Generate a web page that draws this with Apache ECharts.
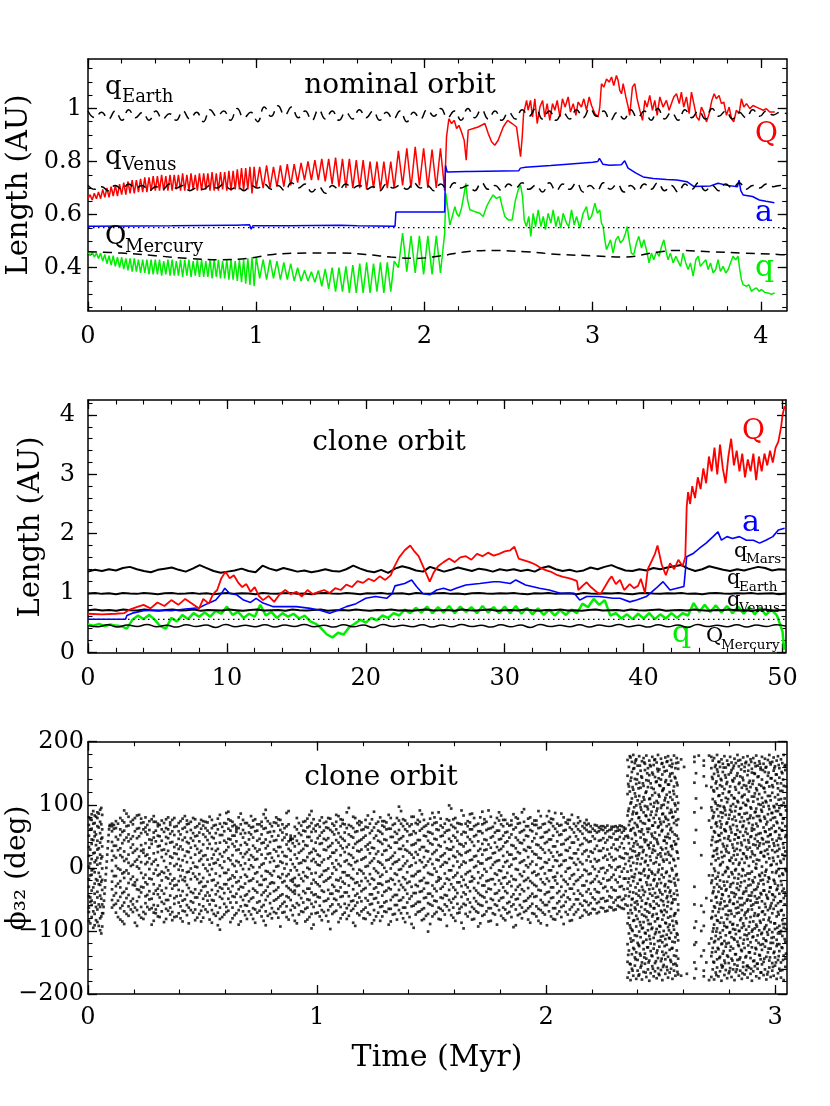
<!DOCTYPE html>
<html><head><meta charset="utf-8">
<script src="https://cdn.jsdelivr.net/npm/echarts@6/dist/echarts.min.js"></script>
<style>html,body{margin:0;padding:0;background:#fff}#c{width:830px;height:1106px}</style>
</head><body><div id="c"></div>
<script>
// ---------------- PANEL 1 : nominal orbit (time in Myr, length in AU) ----------------
const P1_X_TICKS = [0,1,2,3,4];
const P1_Y_TICKS = [0.4,0.6,0.8,1.0];
const QNOM_A = [0.66,0.675,0.655,0.68,0.66,0.685,0.66,0.695,0.665,0.70,
0.665,0.705,0.67,0.71,0.67,0.715,0.675,0.72,0.675,0.725,
0.68,0.73,0.68,0.73,0.685,0.735,0.685,0.74,0.685,0.74,
0.69,0.745,0.69,0.745,0.69,0.75,0.69,0.745,0.69,0.75,
0.69,0.75,0.695,0.75,0.69,0.755,0.69,0.75,0.69,0.755,
0.695,0.75,0.69,0.755,0.69,0.755,0.695,0.755,0.69,0.76,
0.69,0.755,0.69,0.76,0.695,0.76,0.69,0.765,0.69,0.765,
0.695,0.77,0.695,0.775,0.69,0.775,0.695,0.78,0.68,0.78,0.70];
const QNOM_B = [.78,.70,.785,.70,.78,.705,.785,.705,.79,.71,.79,.72,.795,.73,.80,.73,.805,.73,.81,.725,
.81,.715,.815,.705,.81,.70,.81,.70,.805,.70,.805,.695,.80,.70,.80,.695,.80,.70,.80,.70];
const QNOM_C = [.84,.71,.85,.70,.855,.71,.85,.70,.845,.70,.85,.69];
const QNOM_POST = [[2.131,0.893],[2.145,0.961],[2.161,0.943],[2.177,0.955],[2.191,0.924],[2.205,0.936],[2.220,0.911],[2.236,0.88],[2.248,0.805],[2.260,0.918],[2.290,0.924],[2.319,0.93],[2.359,0.943],[2.379,0.905],[2.399,0.874],[2.418,0.861],[2.438,0.88],[2.468,0.93],[2.494,0.955],[2.521,0.943],[2.547,0.93],[2.563,0.855],[2.571,0.818],[2.581,0.893],[2.589,0.98],[2.607,1.03],[2.616,0.993],[2.630,1.03],[2.642,0.968],[2.656,1.036],[2.670,0.943],[2.686,1.005],[2.702,1.03],[2.715,0.968],[2.729,1.018],[2.745,0.955],[2.761,1.018],[2.775,0.993],[2.789,1.03],[2.805,0.968],[2.820,1.036],[2.836,1.005],[2.854,1.043],[2.868,0.986],[2.884,1.018],[2.900,0.974],[2.913,1.024],[2.933,1.005],[2.947,1.036],[2.963,0.993],[2.979,1.043],[2.993,1.011],[3.013,0.98],[3.032,0.968],[3.042,1.005],[3.052,1.093],[3.066,1.08],[3.082,1.111],[3.098,1.099],[3.112,1.118],[3.125,1.086],[3.141,1.124],[3.151,1.105],[3.161,1.068],[3.171,1.055],[3.181,1.093],[3.197,1.043],[3.211,1.005],[3.220,0.974],[3.236,1.08],[3.250,1.093],[3.264,1.036],[3.280,0.993],[3.296,0.955],[3.310,1.03],[3.323,1.005],[3.339,1.049],[3.355,0.993],[3.369,1.03],[3.383,0.974],[3.399,1.043],[3.418,1.005],[3.438,1.03],[3.454,0.993],[3.468,1.018],[3.482,1.043],[3.498,1.055],[3.514,1.018],[3.527,1.061],[3.541,1.005],[3.557,1.043],[3.573,0.98],[3.587,1.061],[3.601,1.018],[3.617,0.968],[3.632,0.955],[3.646,1.005],[3.660,0.986],[3.676,0.949],[3.692,0.98],[3.708,1.03],[3.722,1.055],[3.735,1.036],[3.751,1.049],[3.765,1.018],[3.779,1.024],[3.795,0.974],[3.811,1.005],[3.825,0.961],[3.838,0.949],[3.854,0.993],[3.870,0.98],[3.884,1.036],[3.898,1.005],[3.914,1.018],[3.934,0.999],[3.953,1.011],[3.973,1.005],[3.993,0.999],[4.013,0.993],[4.032,0.999],[4.052,0.986],[4.082,0.986]];
const qNOM_A = [0.46,0.445,0.46,0.44,0.455,0.435,0.455,0.425,0.45,0.415,
0.445,0.41,0.445,0.405,0.44,0.40,0.44,0.395,0.435,0.39,
0.435,0.385,0.435,0.385,0.43,0.38,0.43,0.38,0.43,0.375,
0.43,0.375,0.43,0.375,0.43,0.37,0.425,0.375,0.43,0.37,
0.43,0.37,0.425,0.37,0.43,0.365,0.43,0.37,0.43,0.365,
0.425,0.37,0.43,0.365,0.43,0.365,0.425,0.365,0.43,0.36,
0.43,0.365,0.43,0.36,0.425,0.36,0.43,0.355,0.43,0.355,
0.425,0.35,0.43,0.345,0.43,0.34,0.435,0.335,0.44,0.33,0.44];
const qNOM_B = [.36,.43,.355,.43,.36,.425,.355,.42,.355,.415,.35,.40,.35,.39,.35,.385,.345,.39,.33,.395,
.32,.40,.31,.40,.31,.405,.305,.41,.305,.415,.305,.42,.305,.415,.31,.42,.305,.42,.31,.425];
const qNOM_C = [.40,.53,.385,.52,.38,.52,.375,.52,.375,.52,.38,.53];
const qNOM_POST = [[2.127,0.68],[2.137,0.63],[2.151,0.561],[2.165,0.593],[2.181,0.63],[2.191,0.605],[2.205,0.593],[2.220,0.624],[2.236,0.68],[2.246,0.718],[2.256,0.655],[2.270,0.618],[2.300,0.611],[2.329,0.605],[2.349,0.593],[2.369,0.63],[2.389,0.655],[2.408,0.674],[2.428,0.661],[2.448,0.668],[2.462,0.63],[2.478,0.593],[2.498,0.58],[2.521,0.58],[2.541,0.655],[2.557,0.693],[2.571,0.711],[2.583,0.668],[2.593,0.58],[2.606,0.555],[2.620,0.593],[2.632,0.518],[2.646,0.605],[2.660,0.555],[2.676,0.618],[2.692,0.555],[2.706,0.593],[2.719,0.543],[2.735,0.605],[2.751,0.568],[2.765,0.618],[2.781,0.555],[2.795,0.593],[2.810,0.549],[2.824,0.605],[2.844,0.568],[2.858,0.555],[2.874,0.618],[2.890,0.561],[2.904,0.593],[2.923,0.549],[2.943,0.605],[2.963,0.63],[2.977,0.58],[2.993,0.593],[3.013,0.643],[3.028,0.605],[3.042,0.618],[3.052,0.568],[3.062,0.555],[3.072,0.505],[3.082,0.468],[3.092,0.461],[3.106,0.505],[3.121,0.455],[3.137,0.505],[3.151,0.518],[3.165,0.493],[3.181,0.505],[3.195,0.53],[3.205,0.555],[3.216,0.505],[3.230,0.455],[3.244,0.449],[3.260,0.493],[3.274,0.518],[3.290,0.474],[3.304,0.505],[3.319,0.468],[3.335,0.418],[3.349,0.455],[3.363,0.43],[3.379,0.461],[3.395,0.443],[3.409,0.48],[3.423,0.505],[3.438,0.455],[3.448,0.43],[3.462,0.455],[3.478,0.418],[3.494,0.443],[3.508,0.424],[3.522,0.405],[3.537,0.455],[3.553,0.418],[3.567,0.393],[3.581,0.418],[3.597,0.368],[3.613,0.43],[3.627,0.443],[3.640,0.405],[3.656,0.418],[3.672,0.43],[3.686,0.393],[3.700,0.418],[3.716,0.38],[3.731,0.393],[3.745,0.43],[3.759,0.386],[3.775,0.405],[3.791,0.38],[3.805,0.393],[3.819,0.418],[3.834,0.443],[3.850,0.43],[3.864,0.443],[3.874,0.393],[3.884,0.355],[3.894,0.336],[3.914,0.33],[3.929,0.336],[3.943,0.311],[3.957,0.318],[3.973,0.324],[3.989,0.311],[4.003,0.318],[4.023,0.307],[4.042,0.305],[4.062,0.30],[4.082,0.305]];
const aNOM = [[0,0.556],[0.3,0.557],[0.5,0.558],[0.85,0.56],[0.86,0.565],[0.88,0.56],[0.96,0.562],[0.97,0.545],[0.98,0.558],[1.2,0.558],[1.5,0.56],[1.6,0.558],[1.825,0.556],[1.83,0.61],[2.12,0.61],[2.125,0.785],[2.135,0.76],[2.25,0.762],[2.26,0.768],[2.27,0.762],[2.56,0.765],[2.57,0.775],[2.6,0.778],[2.75,0.785],[2.85,0.79],[3.0,0.797],[3.03,0.80],[3.04,0.812],[3.06,0.79],[3.1,0.786],[3.17,0.788],[3.19,0.803],[3.21,0.775],[3.26,0.755],[3.3,0.742],[3.36,0.736],[3.44,0.732],[3.5,0.73],[3.56,0.724],[3.6,0.706],[3.7,0.708],[3.745,0.718],[3.8,0.71],[3.86,0.705],[3.87,0.73],[3.88,0.69],[3.894,0.674],[3.95,0.668],[3.99,0.655],[4.03,0.65],[4.08,0.645]];
const qEARTH_NOM = [0.99,0.965,0.985,0.96,0.99,0.955,0.995,0.965,0.985,0.955,0.99,0.96,0.98,0.955,0.99,0.96,0.985,0.95,0.995,0.97,0.99,0.955,1.0,0.965,0.985,0.95,1.005,0.97,1.01,0.975,1.005,0.965,0.99,0.955,0.995,0.96,0.99,0.955,0.985,0.96,0.995,0.965,0.99,0.955,0.985,0.96,0.99,0.95,0.985,0.96,0.995,0.97,1.0,0.965,0.99,0.955,1.0,0.965,0.995,0.96,0.99,0.955,0.985,0.96,0.995,0.97,1.0,0.96,0.99,0.955,0.985,0.96,0.995,0.965,1.0,0.97,0.99,0.955,0.985,0.96,0.995,0.965,0.99,0.955,1.0,0.96,0.985,0.955,0.995,0.965,0.99,0.96,1.0,0.97,0.99,0.96,0.985,0.965,0.995,0.97,0.99,0.975,0.985,0.98];
const qVENUS_NOM = [0.71,0.695,0.705,0.69,0.71,0.695,0.715,0.7,0.71,0.69,0.705,0.695,0.715,0.7,0.71,0.69,0.7,0.695,0.71,0.7,0.715,0.695,0.705,0.69,0.71,0.7,0.715,0.695,0.71,0.69,0.72,0.7,0.715,0.685,0.705,0.68,0.71,0.695,0.715,0.7,0.71,0.695,0.705,0.69,0.715,0.7,0.71,0.695,0.72,0.7,0.71,0.69,0.715,0.695,0.72,0.7,0.71,0.69,0.72,0.695,0.71,0.69,0.715,0.7,0.72,0.695,0.71,0.685,0.72,0.69,0.715,0.695,0.72,0.685,0.71,0.69,0.72,0.695,0.715,0.685,0.71,0.69,0.715,0.695,0.72,0.69,0.71,0.685,0.715,0.695,0.72,0.69,0.71,0.69,0.715,0.7,0.72,0.695,0.71,0.7,0.715,0.705,0.71,0.7];
const QMERC_NOM = [[0,0.46],[0.2,0.455],[0.4,0.445],[0.6,0.435],[0.8,0.43],[0.95,0.435],[1.1,0.45],[1.3,0.455],[1.5,0.455],[1.65,0.45],[1.8,0.44],[1.95,0.435],[2.1,0.445],[2.25,0.46],[2.4,0.465],[2.6,0.46],[2.8,0.45],[3.0,0.445],[3.2,0.44],[3.35,0.455],[3.5,0.465],[3.7,0.46],[3.9,0.455],[4.1,0.45],[4.15,0.448]];
const RES_NOM = 0.551;

// ---------------- PANEL 2 : clone orbit, 0-50 Myr ----------------
const P2_X_TICKS = [0,10,20,30,40,50];
const P2_Y_TICKS = [0,1,2,3,4];
const QCLONE = [[0,0.65],[1,0.64],[2,0.65],[2.6,0.66],[3,0.72],[3.5,0.76],[4,0.80],[4.5,0.74],[5,0.84],[5.5,0.78],[6,0.88],[6.5,0.80],[7,0.90],[7.5,0.82],[8,0.74],[8.3,0.90],[8.7,0.82],[9,0.98],[9.3,1.05],[9.6,1.25],[9.9,1.36],[10.2,1.25],[10.5,1.30],[10.8,1.18],[11.1,1.10],[11.4,1.15],[11.7,1.02],[12,1.10],[12.3,0.95],[12.6,0.88],[13,0.95],[13.4,0.85],[13.8,0.98],[14.2,1.05],[14.6,0.98],[15,1.02],[15.4,0.94],[15.8,1.05],[16.2,0.98],[16.6,1.02],[17,1.05],[17.4,1.00],[17.8,1.08],[18.2,1.05],[18.6,1.14],[19,1.10],[19.4,1.20],[19.8,1.17],[20.2,1.24],[20.6,1.20],[21,1.28],[21.4,1.22],[21.8,1.30],[22,1.42],[22.4,1.60],[22.8,1.72],[23.2,1.80],[23.5,1.70],[23.8,1.62],[24.1,1.46],[24.4,1.30],[24.6,1.19],[24.9,1.35],[25.2,1.45],[25.6,1.52],[26,1.58],[26.4,1.52],[26.8,1.60],[27.2,1.62],[27.6,1.56],[28,1.66],[28.4,1.62],[28.8,1.68],[29.2,1.63],[29.6,1.66],[30,1.70],[30.4,1.72],[30.7,1.78],[31,1.58],[31.4,1.55],[31.8,1.52],[32.2,1.48],[32.6,1.42],[33,1.38],[33.4,1.35],[33.8,1.30],[34.2,1.27],[34.6,1.25],[35,1.22],[35.2,1.20],[35.3,1.05],[35.6,1.12],[35.9,1.18],[36.2,1.10],[36.6,1.02],[36.9,0.98],[37.2,1.10],[37.5,1.22],[37.7,1.28],[38,1.15],[38.3,1.22],[38.6,1.05],[39,1.15],[39.3,1.08],[39.6,1.12],[39.8,1.24],[40.1,1.00],[40.3,1.40],[40.6,1.55],[40.8,1.65],[41,1.80],[41.3,1.48],[41.6,1.30],[41.9,1.50],[42.2,1.40],[42.5,1.56],[42.8,1.45],[43,1.60],[43.1,2.45],[43.2,2.70],[43.35,2.50],[43.5,2.80],[43.7,2.60],[43.9,2.95],[44.1,2.75],[44.3,3.10],[44.5,2.85],[44.7,3.30],[44.9,3.05],[45.1,3.45],[45.3,3.00],[45.5,3.50],[45.7,3.10],[45.9,2.85],[46.1,3.30],[46.3,3.60],[46.5,3.15],[46.7,3.40],[46.9,3.05],[47.1,3.35],[47.3,2.95],[47.5,3.25],[47.7,3.05],[47.9,3.35],[48.1,2.90],[48.3,3.30],[48.5,3.05],[48.7,3.35],[48.9,3.15],[49.1,3.40],[49.3,3.20],[49.5,3.45],[49.7,3.55],[49.9,3.80],[50.0,4.00],[50.15,4.15]];
const aCLONE = [[0,0.556],[2.7,0.556],[2.8,0.62],[3.2,0.66],[4,0.70],[5,0.71],[6,0.70],[7,0.73],[8,0.75],[8.6,0.82],[9.2,0.88],[9.6,0.99],[9.85,1.08],[10.2,0.99],[10.7,0.97],[11.2,0.88],[11.7,0.84],[12.1,0.91],[12.6,0.83],[13.3,0.77],[14,0.77],[15,0.77],[16,0.74],[16.7,0.71],[17.4,0.66],[18,0.71],[18.6,0.77],[19.3,0.82],[20,0.91],[20.7,0.94],[21.5,0.91],[21.9,0.99],[22.1,1.12],[22.8,1.16],[23.3,1.22],[23.65,1.11],[24.1,0.99],[24.6,0.97],[25.1,1.05],[25.6,1.08],[26.1,1.04],[26.5,1.08],[27.2,1.135],[28.2,1.16],[29.2,1.19],[29.6,1.19],[30.4,1.16],[30.8,1.22],[31.5,1.135],[32.5,1.08],[33.2,1.05],[34,0.994],[35,0.994],[35.4,0.88],[35.9,0.94],[36.8,0.94],[37.8,0.91],[38.3,0.91],[39,0.85],[39.5,0.88],[40.2,0.94],[40.9,1.08],[41.4,1.19],[41.9,1.05],[42.4,1.08],[42.9,1.11],[43.1,1.61],[43.6,1.67],[44,1.75],[44.5,1.84],[45,1.95],[45.35,2.03],[45.6,1.89],[46,1.95],[46.4,1.92],[46.9,1.95],[47.4,1.89],[47.9,1.89],[48.35,1.84],[48.8,1.89],[49.3,1.95],[49.7,2.06],[50.15,2.09]];
const qCLONE = [.47,.45,.48,.44,.47,.45,.44,.40,.55,.62,
.56,.63,.55,.44,.40,.58,.52,.63,.56,.66,
.60,.67,.60,.70,.65,.77,.63,.68,.58,.65,
.60,.80,.62,.68,.58,.66,.60,.65,.57,.62,
.52,.48,.40,.30,.25,.33,.30,.42,.48,.55,
.50,.58,.54,.62,.58,.66,.62,.72,.66,.75,
.67,.77,.66,.76,.67,.78,.66,.77,.68,.76,
.66,.78,.67,.76,.66,.77,.66,.78,.65,.75,
.64,.74,.63,.72,.62,.71,.63,.72,.66,.82,
.76,.90,.80,.88,.62,.66,.57,.64,.56,.65,
.57,.66,.56,.64,.57,.66,.58,.66,.62,.83,
.68,.80,.68,.79,.67,.78,.66,.77,.65,.76,
.64,.75,.63,.72,.62,.35];
const qCLONE_TAIL = [[50.12,0.04]];
const qMARS_CLONE = [1.36,1.39,1.37,1.40,1.38,1.42,1.44,1.40,1.37,1.35,1.39,1.41,1.43,1.39,1.36,1.41,1.47,1.42,1.37,1.34,1.36,1.38,1.41,1.37,1.35,1.46,1.41,1.38,1.42,1.39,1.36,1.38,1.35,1.37,1.40,1.37,1.36,1.40,1.46,1.41,1.37,1.35,1.39,1.34,1.41,1.45,1.42,1.38,1.36,1.44,1.40,1.36,1.39,1.43,1.40,1.37,1.41,1.39,1.36,1.40,1.38,1.40,1.37,1.39,1.36,1.42,1.45,1.40,1.37,1.39,1.36,1.38,1.43,1.40,1.44,1.47,1.42,1.38,1.37,1.40,1.38,1.42,1.40,1.43,1.45,1.47,1.41,1.37,1.40,1.45,1.42,1.39,1.37,1.40,1.38,1.41,1.44,1.42,1.38,1.40,1.39];
const qEARTH_CLONE = [0.99,1.0,0.985,0.995,0.98,1.0,0.99,0.985,1.0,0.99,0.98,0.995,1.0,0.985,0.99,1.0,0.985,0.995,0.98,0.99,1.0,0.985,0.995,0.99,0.98,1.0,0.99,0.985,0.995,1.0,0.985,0.99,0.98,0.995,1.0,0.99,0.985,1.0,0.99,0.98,0.995,0.99,1.0,0.985,0.99,0.995,0.98,1.0,0.99,0.985,0.995,1.0,0.985,0.99,0.98,0.995,1.0,0.99,0.985,0.995,0.99,1.0,0.985,0.98,0.995,0.99,1.0,0.985,0.99,0.995,0.98,1.0,0.99,0.985,0.995,0.99,1.0,0.985,0.98,0.995,1.0,0.99,0.985,0.995,0.99,1.0,0.985,0.99,0.98,0.995,1.0,0.99,0.985,0.995,0.99,1.0,0.985,0.99,0.995,0.98,0.99];
const qVENUS_CLONE = [0.71,0.72,0.705,0.715,0.70,0.72,0.71,0.705,0.72,0.71,0.70,0.715,0.72,0.705,0.71,0.72,0.70,0.715,0.71,0.705,0.72,0.71,0.70,0.715,0.72,0.705,0.71,0.715,0.70,0.72,0.71,0.705,0.715,0.72,0.70,0.71,0.715,0.705,0.72,0.71,0.70,0.715,0.71,0.72,0.705,0.71,0.70,0.715,0.72,0.705,0.71,0.715,0.70,0.72,0.71,0.705,0.715,0.72,0.70,0.71,0.715,0.705,0.72,0.71,0.70,0.715,0.71,0.72,0.705,0.71,0.70,0.715,0.72,0.705,0.71,0.715,0.70,0.72,0.71,0.705,0.715,0.72,0.70,0.71,0.715,0.705,0.72,0.71,0.70,0.715,0.71,0.72,0.705,0.71,0.70,0.715,0.72,0.705,0.71,0.715];
const QMERC_CLONE = [0.45,0.43,0.465,0.425,0.46,0.435,0.47,0.43,0.455,0.425,0.465,0.435,0.46,0.42,0.47,0.43,0.455,0.43,0.465,0.425,0.46,0.435,0.47,0.43,0.455,0.425,0.465,0.43,0.46,0.42,0.47,0.435,0.455,0.43,0.465,0.425,0.46,0.43,0.47,0.435,0.455,0.425,0.465,0.43,0.46,0.42,0.47,0.435,0.455,0.43,0.465,0.425,0.46,0.435,0.47,0.43,0.455,0.425,0.465,0.43,0.46,0.42,0.47,0.435,0.455,0.43,0.465,0.425,0.46,0.435,0.465,0.44];
const RES_CLONE = 0.556;

// ---------------- PANEL 3 : resonant angle phi32 (deg) vs time (Myr) ----------------
const P3_X_TICKS = [0,1,2,3];
const P3_Y_TICKS = [-200,-100,0,100,200];
// each row: [time, phi values read at that time...]
const PHI_LIB_ROWS = [
[0.004,-84,-70,-63,-45,-30,-18,2,19,33,51,68,80],[0.016,-78,-59,-52,-36,-11,-4,14,38,45,62,76,85],[0.029,-91,-73,-55,-41,-25,-7,9,24,50,57,71,83],[0.041,-86,-66,-47,-38,-20,5,16,29,43,66,79,88],[0.053,-99,-80,-62,-44,-27,-14,7,21,40,55,73,92],[0.062,-93,-72,-58,-35,-19,-1,18,34,48,61,84],
[0.105,-63,-51,-34,-22,-5,12,27,41,58,66,70],[0.122,-71,-57,-40,-29,-13,3,16,35,49,63,74],[0.141,-82,-64,-46,-31,-21,-3,20,31,52,61,79],[0.158,-89,-69,-55,-38,-16,-7,11,26,44,59,72,91],[0.177,-76,-61,-43,-24,-9,8,21,42,53,67,81],[0.196,-70,-58,-49,-27,-14,5,24,37,50,69,76],[0.214,-92,-67,-53,-34,-19,2,13,30,47,62,83],[0.232,-79,-62,-39,-30,-8,9,27,36,55,71,78],[0.251,-73,-56,-45,-23,-11,6,19,39,57,64,80],[0.268,-66,-50,-37,-17,-2,15,32,45,60,74],
[0.287,-84,-71,-59,-41,-26,-9,10,23,48,56,73,82],[0.305,-77,-60,-42,-33,-12,4,25,34,51,66,70],[0.322,-69,-54,-36,-20,-6,17,28,43,61,75],[0.341,-81,-65,-51,-32,-15,1,22,38,49,63,77],[0.359,-74,-63,-44,-25,-10,7,18,40,54,68,72],[0.377,-78,-57,-48,-28,-17,3,23,33,52,65,79],[0.396,-72,-55,-35,-21,-3,14,30,46,58,71],[0.413,-85,-68,-52,-37,-19,-4,12,29,44,62,78],[0.432,-75,-59,-43,-27,-7,9,26,41,57,69,75],[0.449,-67,-53,-38,-18,-1,16,32,47,60,73],
[0.468,-83,-66,-47,-34,-14,2,21,35,50,64,77],[0.486,-73,-58,-41,-24,-10,11,24,42,56,70],[0.503,-79,-61,-49,-30,-16,5,19,37,53,67,74],[0.522,-70,-52,-39,-22,-5,13,31,44,59,72],[0.541,-87,-67,-51,-35,-20,-2,15,30,49,63,76],[0.558,-76,-60,-42,-28,-9,8,27,39,55,68],[0.576,-98,-81,-63,-46,-31,-13,4,22,40,52,70,84],[0.595,-74,-57,-40,-26,-8,10,25,43,58,71],[0.613,-68,-49,-33,-19,-3,15,33,46,62,77,89],[0.631,-80,-63,-45,-29,-12,6,20,38,51,66,73],
[0.648,-72,-55,-41,-23,-6,11,28,42,57,61,65],[0.667,-85,-61,-46,-30,-15,4,23,36,54,69,86],[0.686,-75,-59,-44,-25,-11,7,22,40,55,71],[0.703,-69,-53,-37,-21,-2,13,29,45,56,67],[0.721,-81,-64,-47,-33,-17,1,17,35,48,65,75],[0.739,-71,-55,-39,-22,-7,14,26,43,59,69],[0.758,-77,-62,-43,-27,-13,5,21,39,53,66,73],[0.776,-91,-69,-51,-36,-18,-5,15,31,45,63,79,92],[0.795,-73,-56,-41,-25,-9,9,23,41,57,70],[0.812,-70,-52,-37,-24,-5,11,29,43,58,72],
[0.831,-79,-65,-47,-31,-14,3,19,33,51,67,77],[0.849,-71,-57,-42,-23,-10,8,25,44,56,69],[0.867,-78,-61,-45,-29,-13,6,18,37,53,66,87],[0.885,-67,-51,-35,-20,-4,13,27,45,51,47,44],[0.903,-84,-63,-41,-36,-27,-16,1,21,34,50,65],[0.921,-74,-59,-43,-28,-11,7,24,38,55,71],[0.940,-70,-55,-37,-21,-7,12,30,42,59,73],[0.958,-82,-63,-50,-33,-15,0,17,35,49,64,78],[0.976,-96,-73,-57,-39,-25,-9,11,25,43,57,71,90],[0.994,-72,-54,-42,-23,-8,9,27,40,58,67],
[1.012,-77,-60,-47,-29,-14,4,19,38,51,65,75],[1.030,-70,-53,-38,-22,-5,13,29,46,59,71],[1.049,-85,-67,-49,-35,-17,-1,15,33,47,63,79],[1.067,-73,-58,-41,-27,-9,7,24,39,57,70],[1.084,-68,-51,-36,-19,-3,12,28,44,61,73,84],[1.103,-80,-62,-46,-31,-16,3,20,35,49,66,77],[1.121,-71,-57,-39,-25,-7,10,25,43,56,69],[1.139,-76,-59,-45,-28,-12,6,22,37,53,68,95],[1.158,-87,-65,-52,-34,-18,-2,16,32,48,63,81],[1.176,-72,-55,-41,-23,-9,11,27,41,58,71],
[1.194,-69,-53,-37,-21,-5,13,29,45,60,72],[1.212,-81,-63,-48,-32,-16,2,17,34,51,65,76],[1.231,-74,-58,-42,-26,-10,8,23,40,55,70],[1.249,-83,-67,-49,-33,-19,-1,15,31,47,64,89],[1.267,-71,-55,-39,-25,-8,10,26,43,59,73],[1.285,-77,-61,-44,-27,-11,5,21,38,54,67,74],[1.303,-70,-53,-36,-22,-6,12,28,44,61,72],[1.322,-85,-65,-51,-34,-17,-1,16,32,49,62,79],[1.340,-73,-59,-43,-26,-9,9,24,40,57,70],[1.358,-67,-52,-35,-21,-3,13,30,45,60,75,97],
[1.376,-80,-63,-47,-31,-15,3,18,35,50,66,77],[1.394,-72,-55,-41,-24,-7,11,27,42,58,70],[1.413,-89,-61,-45,-30,-13,4,21,36,53,69,81],[1.431,-74,-57,-40,-27,-10,8,25,39,55,71],[1.449,-69,-54,-38,-21,-5,12,29,44,59,73,91],[1.467,-81,-64,-48,-33,-16,1,17,33,51,65,76],[1.485,-101,-73,-56,-41,-24,-8,10,26,43,57,70],[1.504,-77,-60,-45,-28,-11,6,22,37,54,68,87],[1.522,-70,-53,-37,-22,-6,13,28,45,61,72],[1.540,-82,-65,-47,-33,-17,2,18,34,50,67,78],
[1.558,-74,-58,-43,-25,-9,9,23,41,56,70],[1.577,-67,-51,-35,-19,-4,14,29,46,60,75,99],[1.595,-79,-63,-49,-31,-15,3,19,33,51,65,77],[1.613,-72,-57,-40,-23,-8,10,26,43,57,71],[1.631,-87,-62,-46,-29,-14,5,20,37,53,69,91],[1.649,-73,-59,-42,-27,-10,8,24,39,56,70],[1.668,-70,-55,-37,-22,-5,12,28,45,61,72,85],[1.686,-81,-65,-48,-32,-17,1,18,35,50,66,79],[1.704,-93,-71,-57,-40,-24,-7,10,27,42,58,70],[1.722,-76,-60,-45,-28,-12,7,21,38,55,69,89],
[1.740,-69,-54,-38,-21,-6,13,29,44,60,73],[1.759,-84,-64,-49,-34,-18,0,16,32,48,63,81],[1.777,-74,-58,-41,-26,-9,9,24,40,56,71],[1.795,-67,-52,-36,-20,-4,12,28,45,59,75,88],[1.813,-80,-63,-47,-31,-16,2,19,34,51,66,76],[1.831,-72,-56,-40,-25,-8,11,25,42,57,70],[1.849,-78,-61,-46,-29,-13,5,21,36,53,68,75],[1.868,-91,-66,-50,-35,-19,-2,15,31,48,64,80],[1.886,-73,-59,-42,-27,-10,8,23,40,56,71],[1.904,-70,-53,-37,-21,-6,12,29,44,60,73,93],
[1.922,-82,-64,-48,-32,-16,1,17,33,50,66,78],[1.940,-72,-57,-41,-24,-8,10,26,42,58,70],[1.958,-77,-61,-45,-29,-12,5,21,37,54,68,75],[1.977,-88,-67,-51,-36,-18,-1,15,32,48,64,82],[1.995,-74,-59,-42,-26,-9,9,24,39,56,70],[2.013,-69,-54,-38,-21,-4,13,28,45,60,73,90],[2.031,-81,-64,-47,-31,-15,2,18,34,51,66,77],[2.049,-73,-56,-40,-25,-8,11,25,42,57,70],[2.067,-78,-62,-46,-30,-13,5,21,37,53,68,86],[2.086,-70,-54,-37,-22,-6,12,28,44,60,72],
[2.104,-84,-66,-50,-33,-17,0,16,32,49,64,76],[2.122,-74,-58,-41,-26,-10,8,23,40,56,70],[2.140,-66,-50,-36,-19,-3,14,29,45,61,71,80],[2.159,-76,-60,-44,-28,-12,6,22,38,54,66],[2.177,-70,-54,-38,-21,-5,12,28,44,60,68,76],[2.195,-72,-56,-41,-24,-9,10,26,42,57,66],[2.213,-66,-50,-34,-18,-2,14,30,46,59,68],[2.231,-70,-54,-39,-22,-6,12,27,43,58,64],[2.250,-64,-48,-32,-17,0,16,31,47,60,66],[2.268,-68,-52,-37,-20,-4,13,29,44,58,67],
[2.286,-63,-47,-31,-15,1,17,32,48,61,65],[2.304,-66,-51,-36,-19,-3,14,30,45,58,66],[2.322,-62,-46,-30,-14,2,18,33,49,60,67],[2.340,-65,-49,-34,-17,-1,15,31,46,59,64]];
const PHI_LIB_ROWS2 = [
[0.010,-88,-54,-47,-12,7,29,61,77],[0.023,-95,-69,-31,-2,23,44,70,90],[0.035,-83,-62,-18,12,36,53,81],[0.047,-92,-58,-26,-8,31,64,86],[0.058,-104,-77,-49,-22,15,46,69,95],
[0.113,-59,-44,-13,19,35,62,68],[0.131,-78,-52,-25,-1,28,45,70],[0.150,-85,-60,-40,-9,17,39,57,75],[0.168,-73,-48,-33,-4,14,48,66,86],[0.187,-66,-53,-18,3,32,46,73],[0.205,-87,-63,-28,-23,10,27,58,79],[0.223,-75,-46,-35,-1,18,50,63,84],[0.242,-81,-70,-31,-16,24,29,61,72],[0.259,-62,-43,-26,9,21,53,68],[0.278,-90,-64,-49,-18,6,38,44,77],
[0.296,-72,-66,-36,-3,13,42,59,73],[0.313,-78,-47,-28,-10,35,50,68],[0.332,-86,-57,-41,-8,11,29,57,71],[0.350,-68,-51,-17,-4,27,47,61,80],[0.368,-83,-70,-33,-20,16,41,58,76],[0.387,-77,-45,-27,6,22,37,66],[0.404,-80,-61,-44,-13,3,34,53,74],[0.423,-69,-50,-21,-15,19,48,64,82],[0.440,-88,-63,-32,-6,25,39,70],[0.459,-71,-55,-40,-9,8,43,55,79],
[0.477,-79,-47,-18,1,30,51,66],[0.494,-85,-68,-36,-22,14,27,62,76],[0.513,-66,-44,-29,-1,20,49,63,73],[0.531,-82,-58,-44,-11,5,38,55,81],[0.549,-73,-52,-19,7,21,47,67],[0.567,-91,-71,-37,-24,13,30,61,78],[0.586,-78,-49,-33,0,18,52,65],[0.604,-70,-62,-26,-8,28,40,70,87],[0.622,-86,-55,-38,-17,12,45,59,75],[0.640,-75,-46,-15,3,34,51,68],
[0.658,-90,-67,-34,-21,9,29,63,80],[0.677,-69,-51,-31,-2,17,48,60,76],[0.694,-81,-60,-42,-14,25,37,71],[0.712,-74,-49,-20,4,20,53,64,82],[0.730,-87,-66,-36,-9,13,31,58,77],[0.749,-68,-53,-27,1,29,46,69],[0.767,-84,-59,-39,-19,7,40,62,85],[0.785,-76,-45,-30,-6,22,35,56,74],[0.803,-80,-64,-23,-12,16,50,66],[0.822,-72,-50,-35,2,26,44,71,80],
[0.840,-93,-61,-44,-16,10,33,60,76],[0.858,-70,-54,-21,-1,19,48,63],[0.876,-82,-47,-32,-10,30,42,69,90],[0.894,-75,-60,-38,-22,-18,6,39,46],[0.912,-88,-56,-29,-4,15,43,61,79],[0.931,-69,-48,-17,8,27,52,67],[0.949,-85,-65,-40,-13,11,36,58,74],[0.967,-78,-51,-33,-2,23,49,66,84],[0.985,-90,-62,-43,-19,14,30,62,77],[1.003,-71,-46,-26,5,21,47,69],
[1.021,-83,-67,-36,-11,9,39,56,80],[1.040,-76,-52,-20,-4,28,44,64,73],[1.058,-97,-61,-41,-15,18,35,60,78],[1.075,-70,-49,-30,1,24,53,67],[1.094,-86,-58,-37,-20,6,40,55,82],[1.112,-74,-45,-22,-7,31,46,70,76],[1.130,-81,-64,-39,-12,12,33,63,88],[1.149,-68,-53,-16,4,20,50,66],[1.167,-92,-60,-44,-24,9,38,57,79],[1.185,-75,-47,-28,-3,26,43,68,74],
[1.203,-80,-66,-34,-9,15,48,61],[1.222,-71,-52,-21,3,29,37,64,83],[1.240,-88,-57,-42,-17,11,32,59,77],[1.258,-77,-48,-31,-5,22,51,70],[1.276,-84,-62,-25,-14,8,41,57,80],[1.294,-69,-55,-38,0,27,45,65,74],[1.313,-90,-65,-32,-21,13,35,62,84],[1.331,-74,-46,-19,6,19,49,68],[1.349,-82,-59,-43,-11,10,40,54,79],[1.367,-72,-51,-27,-2,30,47,70,90],
[1.385,-86,-63,-35,-18,7,29,61,75],[1.404,-78,-49,-22,2,24,52,66],[1.422,-95,-60,-40,-13,16,37,58,81],[1.440,-70,-54,-29,-6,21,44,69,76],[1.458,-83,-66,-37,-20,9,33,62,85],[1.476,-76,-47,-24,4,27,50,67],[1.494,-89,-58,-41,-10,14,39,56,78],[1.513,-73,-52,-33,-1,25,46,71,80],[1.531,-81,-63,-20,-15,12,36,60,88],[1.549,-68,-48,-30,5,20,51,64],
[1.567,-92,-61,-44,-17,8,31,59,77],[1.586,-75,-55,-26,-4,29,42,68,94],[1.604,-84,-46,-35,-12,17,48,63,79],[1.622,-71,-65,-23,1,22,38,70],[1.640,-96,-57,-39,-19,10,34,57,83],[1.658,-77,-50,-31,-7,26,49,66,74],[1.677,-82,-62,-21,-14,13,41,61,86],[1.695,-69,-53,-36,3,19,52,68],[1.713,-88,-59,-43,-16,7,30,58,80],[1.731,-74,-47,-28,-2,28,45,71,77],
[1.749,-85,-64,-33,-20,15,37,62,91],[1.768,-72,-51,-18,5,23,50,65],[1.786,-90,-60,-40,-11,11,33,59,79],[1.804,-76,-48,-25,-5,30,46,69,83],[1.822,-83,-66,-37,-15,9,40,56,76],[1.840,-70,-54,-22,2,21,48,67],[1.858,-94,-58,-42,-18,14,35,61,85],[1.877,-75,-49,-30,-3,25,44,70,78],[1.895,-80,-63,-34,-13,10,39,58,88],[1.913,-68,-52,-19,4,27,51,66],
[1.931,-87,-61,-45,-21,6,32,60,80],[1.949,-73,-46,-27,-6,22,47,68,75],[1.967,-84,-65,-35,-10,16,36,63,90],[1.986,-71,-55,-23,1,29,49,69],[2.004,-91,-59,-39,-17,8,41,57,82],[2.022,-77,-48,-31,-4,24,45,71,78],[2.040,-82,-64,-20,-14,12,34,62,87],[2.058,-69,-53,-37,3,20,52,67],[2.077,-89,-60,-43,-19,11,38,59,80],[2.095,-74,-47,-26,-1,27,46,70,76],
[2.113,-83,-62,-33,-12,15,40,61,84],[2.131,-70,-50,-21,5,23,50,66],[2.149,-79,-57,-41,-15,9,36,58,74],[2.168,-67,-52,-28,-3,26,47,63,71],[2.186,-74,-59,-34,-10,18,41,57,70],[2.204,-65,-47,-22,2,24,50,62],[2.222,-72,-56,-38,-13,10,35,56,67],[2.240,-63,-49,-25,-1,27,44,61,66],[2.259,-69,-53,-30,-8,19,40,55,64],[2.277,-62,-45,-19,4,22,49,60],
[2.295,-67,-55,-35,-11,12,37,54,65],[2.313,-60,-47,-23,1,28,45,59,64],[2.331,-64,-51,-29,-6,16,39,56,66],[2.347,-58,-44,-17,6,23,50,62]];
// the steep libration stroke near t = 0.07-0.1 Myr
const PHI_STROKE = [[0.066,-72],[0.068,-62],[0.070,-52],[0.072,-41],[0.074,-31],[0.076,-20],[0.078,-10],[0.080,0],[0.082,10],[0.084,21],[0.086,31],[0.088,42],[0.090,52],[0.092,61],[0.094,66],[0.096,68]];
const PHI_CIRC_ROWS = [
[2.356,-174,-149,-121,-88,-60,-33,-6,22,51,83,117,146,171],[2.362,-166,-131,-104,-79,-45,-17,11,39,68,94,129,160],[2.369,-178,-153,-112,-95,-67,-28,3,30,59,102,138,175],[2.375,-160,-137,-98,-72,-50,-14,17,46,77,110,152,168],[2.381,-171,-127,-115,-84,-39,-21,8,34,63,89,124,157,179],[2.388,-155,-142,-107,-63,-55,-10,26,55,71,118,141,166],[2.394,-176,-134,-93,-76,-41,-2,19,42,86,99,133,172],[2.400,-163,-146,-119,-81,-58,-25,14,37,65,107,149,162],
[2.407,-169,-124,-101,-69,-36,-8,23,58,80,114,135,177],[2.413,-158,-139,-110,-91,-47,-19,6,48,74,96,127,154],[2.419,-177,-150,-96,-74,-52,-30,15,33,61,105,143,169],[2.426,-165,-129,-117,-86,-43,-5,28,53,88,112,130,174],[2.432,-152,-136,-103,-66,-38,-12,9,41,70,98,155,165],[2.438,-173,-144,-114,-78,-56,-23,20,44,82,121,139,178],[2.445,-161,-126,-99,-83,-49,-16,4,36,57,93,128,158],[2.451,-179,-147,-108,-71,-34,-3,31,62,75,109,147,170],
[2.457,-167,-132,-120,-89,-61,-27,12,40,84,101,134,161],[2.464,-156,-140,-95,-77,-44,-9,24,50,67,115,151,176],[2.470,-172,-128,-111,-64,-53,-20,7,35,79,97,125,163],[2.476,-164,-151,-105,-85,-40,-11,27,56,72,119,144,172],[2.483,-175,-135,-97,-73,-57,-29,16,45,90,106,137,167],[2.489,-159,-143,-116,-80,-46,-7,21,38,64,103,153,179],[2.495,-170,-125,-102,-92,-35,-18,5,52,78,113,131,156],[2.502,-162,-148,-109,-68,-51,-24,18,32,69,95,140,173],
[2.508,-178,-133,-118,-82,-42,-1,29,60,85,122,148,166],[2.514,-154,-138,-100,-75,-59,-15,10,43,73,100,126,160],[2.521,-168,-145,-113,-87,-37,-26,22,49,81,111,136,175],[2.527,-157,-122,-106,-70,-48,-6,13,39,66,116,154,168],[2.533,-174,-141,-94,-79,-54,-31,25,54,76,104,132,177],[2.540,-166,-130,-112,-90,-39,-13,8,47,87,120,145,162],[2.546,-160,-149,-103,-65,-45,-22,19,34,63,92,138,171],[2.552,-176,-127,-117,-84,-55,-4,30,57,80,108,150,165],
[2.559,-163,-139,-98,-76,-41,-17,12,42,71,117,129,178],[2.565,-171,-152,-110,-72,-50,-28,3,37,89,99,142,158],[2.571,-155,-131,-104,-88,-36,-10,26,51,68,113,135,174],[2.577,-169,-144,-115,-67,-58,-19,15,46,77,103,157,167],
[2.590,-171,172],[2.603,160],[2.615,-168],[2.648,-175,-150,-122,-95,-58,-30,40,88,135,168,176],[2.655,-160,-118,-85,60,110,150],[2.667,178],[2.678,-140,-100,-60,20,95],[2.689,-172,-163,-131,-92,-70,145,162,170],[2.700,-150,-48,130],[2.712,-178,-120,-12,75,178],
[2.722,-173,-140,-112,-80,-52,-24,6,36,64,96,128,158,176],[2.728,-161,-127,-101,-69,-40,-12,18,49,79,109,141,170],[2.734,-177,-150,-118,-90,-61,-31,-1,27,58,88,121,149,174],[2.741,-166,-133,-108,-76,-47,-17,12,41,70,102,134,163],[2.747,-158,-145,-96,-83,-55,-26,22,31,66,93,126,156,179],[2.753,-172,-129,-113,-70,-38,-8,15,52,82,114,146,168],[2.760,-164,-141,-103,-87,-58,-20,4,44,74,98,131,160],[2.766,-179,-154,-121,-79,-49,-33,25,55,69,107,139,172],
[2.772,-156,-136,-99,-65,-43,-11,9,38,87,118,152,165],[2.779,-170,-147,-116,-92,-53,-28,19,47,61,95,125,177],[2.785,-162,-125,-107,-74,-36,-5,30,58,84,111,143,159],[2.791,-175,-139,-94,-81,-60,-22,1,35,72,104,136,170],[2.798,-167,-151,-119,-68,-45,-14,24,50,78,120,148,163],[2.804,-159,-131,-102,-86,-51,-30,11,43,65,92,129,176],[2.810,-173,-144,-110,-73,-39,-7,16,56,89,115,155,167],[2.817,-161,-128,-97,-89,-57,-24,7,32,68,101,137,158],
[2.823,-178,-153,-114,-77,-46,-16,27,45,81,110,142,173],[2.829,-165,-137,-105,-64,-42,-2,13,53,75,97,124,166],[2.836,-155,-146,-117,-91,-54,-25,21,39,60,106,150,179],[2.842,-171,-124,-100,-71,-35,-10,5,48,85,119,133,161],[2.848,-163,-142,-111,-83,-59,-29,28,57,73,94,145,171],[2.855,-176,-132,-95,-67,-48,-13,14,36,80,112,127,164],[2.861,-157,-150,-120,-88,-41,-4,23,51,67,103,139,175],[2.867,-169,-127,-106,-75,-56,-21,8,44,86,116,153,160],
[2.874,-162,-140,-98,-80,-37,-32,18,33,62,99,130,168],[2.880,-174,-155,-113,-69,-50,-9,29,54,77,108,147,177],[2.886,-158,-134,-104,-93,-44,-18,3,40,71,121,135,163],[2.893,-168,-143,-118,-78,-52,-27,17,49,83,96,128,172],[2.899,-179,-126,-101,-66,-39,-6,26,59,63,113,151,157],[2.905,-164,-148,-109,-85,-58,-23,10,37,79,105,138,174],[2.912,-156,-136,-96,-72,-45,-15,20,46,88,118,149,166],[2.918,-172,-129,-115,-90,-34,-1,6,52,70,94,126,178],
[2.924,-160,-152,-107,-76,-55,-30,31,42,66,109,144,162],[2.931,-175,-138,-99,-63,-47,-11,12,35,82,117,132,169],[2.937,-166,-145,-122,-87,-40,-20,24,55,74,100,156,159],[2.943,-153,-130,-103,-70,-53,-8,2,47,89,111,140,176],[2.950,-170,-149,-112,-82,-36,-26,19,38,64,97,127,165],[2.956,-161,-125,-94,-74,-57,-12,27,58,78,120,152,173],[2.962,-177,-141,-116,-91,-43,-3,9,41,69,104,135,160],[2.969,-165,-134,-106,-67,-49,-22,22,50,85,114,146,171],
[2.975,-158,-147,-98,-79,-38,-17,15,34,61,93,129,179],[2.981,-173,-128,-119,-86,-60,-31,4,53,76,107,142,164],[2.988,-163,-151,-102,-72,-42,-7,28,45,87,119,131,168],[2.994,-171,-135,-110,-65,-51,-19,11,39,67,98,154,175],[3.000,-155,-142,-97,-88,-46,-25,25,57,80,112,138,161],[3.007,-176,-124,-114,-77,-35,-5,6,43,73,101,148,170],[3.013,-167,-146,-104,-70,-56,-28,18,36,90,116,126,177],[3.019,-160,-132,-121,-92,-41,-13,30,52,63,95,143,158],
[3.026,-174,-150,-100,-68,-53,-21,8,46,84,109,134,172],[3.032,-162,-127,-108,-83,-37,-9,21,59,71,122,150,166],[3.038,-178,-139,-95,-75,-48,-33,14,32,78,103,130,179],[3.045,-157,-144,-117,-89,-44,-2,26,49,66,97,155,163]];
const PHI_CIRC_ROWS2 = [
[2.359,-138,-72,-23,48,90,133],[2.366,-152,-91,-38,16,74,121,177],[2.372,-117,-59,-4,61,104,143],[2.378,-163,-100,-49,27,85,128],[2.385,-129,-83,-15,39,96,158],[2.391,-145,-66,-31,52,113,170],[2.397,-108,-53,7,68,87,140],[2.404,-171,-122,-44,20,79,126],[2.410,-136,-86,-19,33,101,162],[2.416,-155,-62,-9,57,92,145],
[2.423,-119,-95,-35,25,71,134],[2.429,-142,-76,-2,45,108,167],[2.435,-166,-104,-57,11,83,119],[2.442,-126,-69,-27,62,97,150],[2.448,-150,-89,-13,36,76,138],[2.454,-113,-58,-41,18,110,163],[2.461,-139,-97,-6,54,89,127],[2.467,-160,-74,-33,29,67,148],[2.473,-121,-64,-18,47,103,171],[2.480,-148,-102,-47,9,84,136],
[2.486,-131,-81,-25,41,94,157],[2.492,-168,-60,-3,66,116,142],[2.499,-115,-93,-39,23,73,130],[2.505,-144,-70,-11,58,99,165],[2.511,-157,-108,-53,13,86,124],[2.518,-124,-67,-29,43,107,153],[2.524,-135,-88,-8,31,78,139],[2.530,-162,-61,-45,49,95,169],[2.537,-111,-99,-21,21,69,132],[2.543,-146,-77,-36,60,112,149],
[2.549,-128,-56,-1,35,88,160],[2.556,-153,-92,-50,14,81,122],[2.562,-118,-73,-24,53,102,144],[2.568,-140,-85,-12,38,75,166],[2.574,-165,-106,-43,24,93,131],
[2.725,-134,-78,-20,44,91,144],[2.731,-149,-96,-37,19,82,123],[2.738,-116,-63,-5,56,105,160],[2.744,-170,-101,-46,28,72,137],[2.750,-127,-84,-14,42,99,152],[2.757,-143,-65,-30,51,115,168],[2.763,-110,-55,6,64,88,141],[2.769,-158,-120,-42,17,80,129],[2.776,-132,-87,-22,34,97,159],[2.782,-151,-61,-7,59,91,147],
[2.788,-120,-94,-34,26,70,133],[2.795,-141,-75,-1,46,109,164],[2.801,-164,-103,-54,12,84,121],[2.807,-125,-68,-26,61,98,151],[2.814,-147,-90,-10,37,77,139],[2.820,-112,-57,-40,20,111,162],[2.826,-137,-98,-4,53,90,128],[2.833,-161,-72,-32,30,66,146],[2.839,-122,-63,-17,48,104,170],[2.845,-145,-100,-48,8,85,135],
[2.852,-130,-80,-23,40,95,156],[2.858,-167,-59,-2,65,114,143],[2.864,-114,-92,-38,22,74,131],[2.871,-142,-71,-12,57,100,166],[2.877,-156,-107,-52,15,87,125],[2.883,-123,-66,-28,44,106,154],[2.890,-134,-86,-9,32,79,138],[2.896,-160,-60,-44,50,94,168],[2.902,-110,-98,-20,22,68,133],[2.909,-147,-76,-35,61,113,150],
[2.915,-127,-55,0,36,89,161],[2.921,-152,-93,-49,13,82,123],[2.928,-119,-74,-25,54,101,145],[2.934,-139,-84,-13,39,76,165],[2.940,-166,-105,-42,25,92,130],[2.947,-121,-69,-19,45,103,155],[2.953,-144,-97,-36,18,81,126],[2.959,-115,-62,-6,57,106,159],[2.966,-169,-102,-47,29,73,136],[2.972,-128,-83,-15,41,98,151],
[2.978,-142,-64,-31,52,114,167],[2.985,-111,-56,5,63,87,142],[2.991,-157,-119,-43,16,79,128],[2.997,-133,-88,-21,35,96,158],[3.004,-150,-60,-8,58,90,148],[3.010,-121,-95,-33,27,71,134],[3.016,-140,-74,-2,47,108,163],[3.023,-163,-104,-53,11,85,122],[3.029,-126,-67,-27,60,99,152],[3.035,-146,-89,-11,38,78,140],
[3.042,-113,-58,-39,19,110,161],[3.048,-136,-97,-5,52,91,129]];

// ---------------- helpers ----------------
function spread(t0, t1, vals){ const n = vals.length; return vals.map((v,i)=>[t0+(t1-t0)*i/(n-1), v]); }
function rowsToPts(rows){ const o=[]; rows.forEach(r=>{ for(let i=1;i<r.length;i++) o.push([r[0], r[i]]); }); return o; }
function range(a,b,s){ const o=[]; for(let k=0; a+k*s<=b+1e-9; k++) o.push(+(a+k*s).toFixed(4)); return o; }

const FONT = 'DejaVu Serif';
const fmt = v => (v < 0 ? '\u2212' + Math.abs(v) : String(v));
const BLACK = '#000';

function axisSet(dim, g, min, max, major, minor, margin){
  const posA = dim==='x' ? 'bottom' : 'left', posB = dim==='x' ? 'top' : 'right';
  const base = {type:'value', gridIndex:g, min, max, splitLine:{show:false}};
  const line = {show:true, onZero:false, lineStyle:{color:BLACK, width:1.5}};
  const noLine = {show:false, onZero:false};
  const majT = {show:true, inside:true, length:9, customValues:major, lineStyle:{color:BLACK, width:1.3}};
  const minT = {show:true, inside:true, length:4.5, customValues:minor, lineStyle:{color:BLACK, width:1.1}};
  return [
    Object.assign({}, base, {position:posA, axisLine:line, axisTick:majT,
      axisLabel:{show:true, customValues:major, margin, color:BLACK, fontFamily:FONT, fontSize:24, formatter:fmt}}),
    Object.assign({}, base, {position:posA, axisLine:noLine, axisTick:minT, axisLabel:{show:false}}),
    Object.assign({}, base, {position:posB, axisLine:line, axisTick:majT, axisLabel:{show:false}}),
    Object.assign({}, base, {position:posB, axisLine:noLine, axisTick:minT, axisLabel:{show:false}})
  ];
}

const xAxis = [].concat(
  axisSet('x',0,0,4.153,P1_X_TICKS,range(0,4.1,0.2),14),
  axisSet('x',1,0,50.25,P2_X_TICKS,range(0,50,2),14),
  axisSet('x',2,0,3.051,P3_X_TICKS,range(0,3,0.2),12));
const yAxis = [].concat(
  axisSet('y',0,0.238,1.186,P1_Y_TICKS,range(0.25,1.15,0.05),6),
  axisSet('y',1,0,4.253,P2_Y_TICKS,range(0,4.2,0.2),13),
  axisSet('y',2,-200,200,P3_Y_TICKS,range(-200,200,20),4));

function ln(g, data, color, width, type, z, smooth){
  return {type:'line', xAxisIndex:4*g, yAxisIndex:4*g, data, showSymbol:false, symbol:'none', smooth: smooth||false,
    lineStyle:{color, width, type: type || 'solid'}, silent:true, animation:false, z: z||2};
}
const RED='#ff0000', BLUE='#0000ff', GREEN='#00ee00';
const DASH=[9,6], DOT=[1.5,3.5];

const series = [
  // panel 1
  ln(0, spread(0,1.0,QNOM_A).concat(spread(1.0205,1.82,QNOM_B), spread(1.845,2.12,QNOM_C), QNOM_POST), RED, 1.5),
  ln(0, spread(0,1.0,qNOM_A).concat(spread(1.0205,1.82,qNOM_B), spread(1.845,2.12,qNOM_C), qNOM_POST), GREEN, 1.5),
  ln(0, aNOM, BLUE, 1.5),
  ln(0, [[0,RES_NOM],[4.153,RES_NOM]], BLACK, 1.3, DOT, 3),
  ln(0, spread(0,4.153,qEARTH_NOM), BLACK, 1.5, DASH, 3, 0.5),
  ln(0, spread(0,4.153,qVENUS_NOM), BLACK, 1.5, DASH, 3, 0.5),
  ln(0, QMERC_NOM, BLACK, 1.5, DASH, 3, 0.4),
  // panel 2
  ln(1, spread(0,50,qCLONE).concat(qCLONE_TAIL), GREEN, 2.5, null, 2),
  ln(1, spread(0,50.25,qMARS_CLONE), BLACK, 2, null, 3),
  ln(1, spread(0,50.25,qEARTH_CLONE), BLACK, 2, null, 3),
  ln(1, spread(0,50.25,qVENUS_CLONE), BLACK, 2, null, 3),
  ln(1, spread(0,50.25,QMERC_CLONE), BLACK, 1.5, null, 3, 0.5),
  ln(1, [[0,RES_CLONE],[50.25,RES_CLONE]], BLACK, 1.3, DOT, 3),
  ln(1, aCLONE, BLUE, 1.6, null, 4),
  ln(1, QCLONE, RED, 1.8, null, 5),
  // panel 3
  {type:'scatter', xAxisIndex:8, yAxisIndex:8,
   data: rowsToPts(PHI_LIB_ROWS).concat(rowsToPts(PHI_LIB_ROWS2), PHI_STROKE, rowsToPts(PHI_CIRC_ROWS), rowsToPts(PHI_CIRC_ROWS2)),
   symbol:'rect', symbolSize:2.7, itemStyle:{color:BLACK}, silent:true, animation:false}
];

function txt(x, baseline, text, size, color, align, rot){
  return {type:'text', x, y: rot ? baseline : baseline - 0.3*size, rotation: rot||0, silent:true, z:100,
    style:{text, fill:color||BLACK, font: size+'px "'+FONT+'"', fontFamily:FONT, fontSize:size,
      textAlign: align||'left', align: align||'left', textVerticalAlign:'middle', verticalAlign:'middle'}};
}
const graphic = [
  txt(400, 94, 'nominal orbit', 28, BLACK, 'center'),
  txt(105, 95, 'q', 26), txt(122, 103, 'Earth', 18),
  txt(105, 165, 'q', 26), txt(122, 171, 'Venus', 18),
  txt(105, 245, 'Q', 26), txt(125, 253, 'Mercury', 18),
  txt(755, 143, 'Q', 28, RED), txt(755, 222, 'a', 30, BLUE), txt(755, 277, 'q', 30, GREEN),
  txt(389, 451, 'clone orbit', 28, BLACK, 'center'),
  txt(742, 440, 'Q', 28, RED), txt(742, 532, 'a', 30, BLUE),
  txt(734, 558, 'q', 21), txt(746, 564, 'Mars', 13.5),
  txt(727, 585, 'q', 21), txt(739, 592, 'Earth', 13.5),
  txt(727, 607, 'q', 21), txt(739, 613, 'Venus', 13.5),
  txt(672, 643, 'q', 30, GREEN),
  txt(706, 643, 'Q', 21), txt(721, 650, 'Mercury', 13.5),
  txt(381, 786, 'clone orbit', 28, BLACK, 'center'),
  txt(437, 1067, 'Time (Myr)', 30, BLACK, 'center'),
  txt(19, 185, 'Length (AU)', 29, BLACK, 'center', Math.PI/2),
  txt(31, 527, 'Length (AU)', 29, BLACK, 'center', Math.PI/2),
  txt(18, 868, '\u03D5\u2083\u2082 (deg)', 28, BLACK, 'center', Math.PI/2)
];

const chart = echarts.init(document.getElementById('c'));
chart.setOption({
  animation:false,
  backgroundColor:'#fff',
  grid:[
    {left:88, top:59, width:698.7, height:251.7, containLabel:false},
    {left:88, top:400, width:698, height:252.3, containLabel:false},
    {left:88, top:741.7, width:698.7, height:252.3, containLabel:false}
  ],
  xAxis, yAxis, series, graphic
});
</script>
</body></html>
